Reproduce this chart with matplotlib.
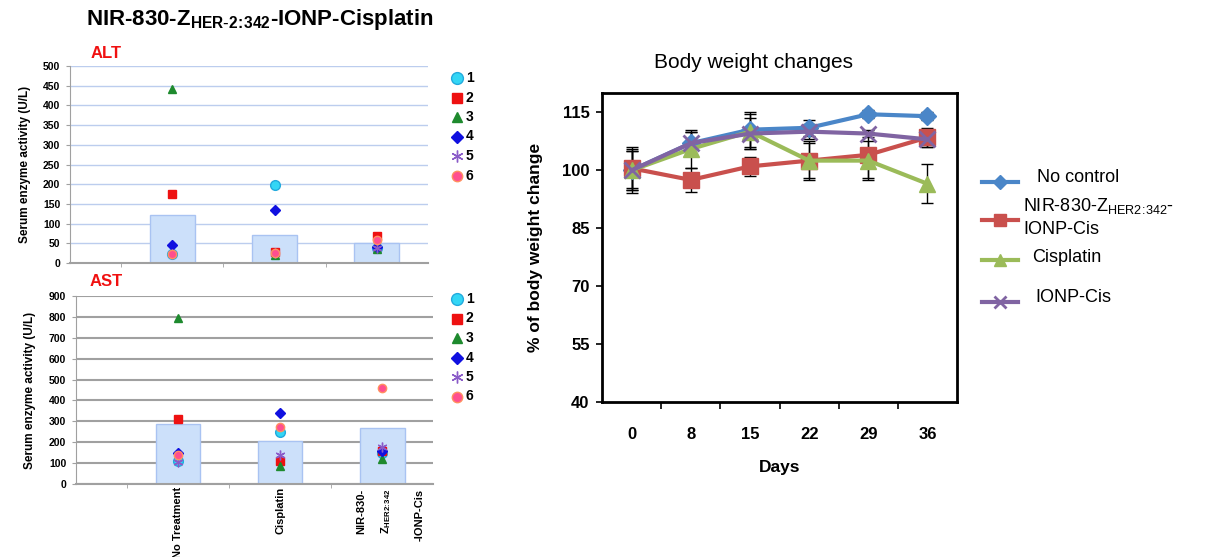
import matplotlib
matplotlib.use("Agg")
import matplotlib.pyplot as plt
from matplotlib.lines import Line2D
import numpy as np

plt.rcParams['font.family'] = ['Liberation Sans', 'DejaVu Sans']

# ---------------- data ----------------
groups = ["No Treatment", "Cisplatin", ""]
nir_label_lines = ["NIR-830-", "Z$_{\\mathregular{HER2\\!:\\!342}}$", "-IONP-Cis"]
mice = ["1", "2", "3", "4", "5", "6"]

alt_mean = [122, 72, 52]
alt_vals = {  # per mouse, per group
    "1": [22, 198, 38],
    "2": [175, 27, 68],
    "3": [442, 20, 35],
    "4": [45, 134, 40],
    "5": [22, 25, 38],
    "6": [22, 25, 58],
}
ast_mean = [285, 205, 270]
ast_vals = {
    "1": [112, 250, 150],
    "2": [310, 112, 158],
    "3": [795, 88, 120],
    "4": [150, 340, 160],
    "5": [105, 140, 175],
    "6": [140, 275, 460],
}

days = ["0", "8", "15", "22", "29", "36"]
bw_series = ["No control", "NIR-830-Z$_{\\mathregular{HER2\\!:\\!342}}$-\nIONP-Cis", "Cisplatin", "IONP-Cis"]
bw_vals = [
    [100, 107, 110.5, 111, 114.5, 114],
    [100.5, 97.5, 101, 102.5, 104, 108.5],
    [100, 105.5, 110, 102.5, 102.5, 96.5],
    [100, 107, 109.5, 110, 109.5, 108],
]
bw_err = [
    [6, 3, 4.5, 2, 1, 1],
    [5, 3, 2.5, 4.5, 6, 2.5],
    [5, 5, 4.5, 5, 5, 5],
    [5, 3, 4, 2, 1, 2],
]

# ---------------- styles ----------------
mouse_style = {
    "1": dict(marker="o", color="#33D6F5", mec="#22AADD", ms=7),
    "2": dict(marker="s", color="#EE1111", mec="#EE1111", ms=6),
    "3": dict(marker="^", color="#1E8A2E", mec="#1E8A2E", ms=6),
    "4": dict(marker="D", color="#1010E0", mec="#1010E0", ms=5),
    "5": dict(marker=(6, 2, 0), color="#8A5BC8", mec="#8A5BC8", ms=7),
    "6": dict(marker="o", color="#FF4F8F", mec="#FF9060", ms=6),
}
bw_colors = ["#4A86C8", "#C9504D", "#9BBB59", "#8064A2"]
bw_markers = ["D", "s", "^", "x"]
bw_ms = [9, 11, 11, 11]

fig = plt.figure(figsize=(12.09, 5.57), dpi=100)

def enzyme_panel(rect, means, vals, ymax, ystep, grid_color, grid_lw, label, label_xy, leg_y):
    ax = fig.add_axes(rect)
    x = np.arange(1, len(means) + 1)
    ax.bar(x, means, width=0.44, color="#CCE0FA", edgecolor="#A9C3F2", linewidth=1, zorder=2)
    for m in mice:
        st = mouse_style[m]
        ax.plot(x, vals[m], linestyle="none", marker=st["marker"], color=st["color"],
                mec=st["mec"], ms=st["ms"], zorder=3)
    ax.set_xlim(0, 3.5)
    ax.set_ylim(0, ymax)
    ax.set_yticks(np.arange(0, ymax + 1, ystep))
    ax.yaxis.grid(True, color=grid_color, lw=grid_lw, zorder=0)
    ax.set_axisbelow(True)
    for s in ["top", "right"]:
        ax.spines[s].set_visible(False)
    ax.spines["left"].set_color("#A0A0A0")
    ax.spines["bottom"].set_color("#A0A0A0")
    ax.spines["bottom"].set_linewidth(1.5)
    ax.tick_params(axis="y", labelsize=7.5, length=3, color="#A0A0A0", pad=4)
    for t in ax.get_yticklabels():
        t.set_fontweight("bold")
    ax.set_xticks([0.5, 1.5, 2.5], minor=True)
    ax.tick_params(axis="x", which="minor", length=3, color="#A0A0A0")
    fig.text(label_xy[0] / 1209, 1 - label_xy[1] / 557, label, color="#F01010",
             fontsize=12, fontweight="bold", va="center", ha="left")
    ax.set_ylabel("Serum enzyme activity (U/L)", fontsize=8.5, fontweight="bold", labelpad=9)
    # legend
    for i, m in enumerate(mice):
        st = mouse_style[m]
        yy = leg_y - i * 19.5
        fig.add_artist(Line2D([457 / 1209], [yy / 557], marker=st["marker"], color=st["color"],
                              mec=st["mec"], ms=st["ms"] + 1.5, linestyle="none"))
        fig.text(466 / 1209, yy / 557, m, fontsize=10, fontweight="bold", va="center")
    return ax

ax1 = enzyme_panel([0.0579, 0.5278, 0.2961, 0.3537], alt_mean, alt_vals, 500, 50,
                   "#BCCDEE", 1.0, "ALT", (91, 54), 557 - 78)
ax1.set_xticks([1, 2, 3])
ax1.tick_params(axis="x", which="major", length=0, labelbottom=False)

ax2 = enzyme_panel([0.0629, 0.1311, 0.2953, 0.3375], ast_mean, ast_vals, 900, 100,
                   "#A0A0A0", 1.5, "AST", (90, 282), 557 - 299)
ax2.set_xticks([1, 2, 3])
ax2.set_xticklabels(groups, rotation=90, fontsize=8, fontweight="bold",
                    va="top", ha="center")
ax2.tick_params(axis="x", which="major", length=0, pad=2)
for xoff, txt in zip([2.80, 3.04, 3.37], nir_label_lines):
    ax2.text(xoff, -0.025, txt, transform=ax2.get_xaxis_transform(), rotation=90,
             fontsize=8, fontweight="bold", va="top", ha="center")

fig.text(260 / 1209, 1 - 20 / 557, "NIR-830-Z$_{\\mathregular{HER\\text{-}2\\!:\\!342}}$-IONP-Cisplatin",
         fontsize=16, fontweight="bold", ha="center", va="center")

# ---------------- body weight ----------------
ax3 = fig.add_axes([0.498, 0.2783, 0.2936, 0.5547])
xi = np.arange(len(days))
for k in range(len(bw_series)):
    ax3.errorbar(xi, bw_vals[k], yerr=bw_err[k], fmt="none", ecolor="black",
                 elinewidth=1, capsize=4, capthick=1, zorder=2)
for k in range(len(bw_series)):
    ax3.plot(xi, bw_vals[k], color=bw_colors[k], lw=3, marker=bw_markers[k],
             ms=bw_ms[k], mew=2 if bw_markers[k] == "x" else 1,
             mec=bw_colors[k], zorder=3 + k * 0.1)
ax3.set_xlim(-0.5, 5.5)
ax3.set_ylim(40, 120)
ax3.set_yticks([40, 55, 70, 85, 100, 115])
ax3.set_xticks(xi)
ax3.set_xticklabels(days)
ax3.set_xticks(np.arange(0.5, 5.5, 1), minor=True)
ax3.tick_params(axis="x", which="major", length=0, pad=18, labelsize=12)
ax3.tick_params(axis="x", which="minor", length=5, width=1.2, direction="out")
ax3.tick_params(axis="y", length=4, width=1.2, labelsize=12, pad=5)
for t in ax3.get_xticklabels() + ax3.get_yticklabels():
    t.set_fontweight("bold")
for s in ax3.spines.values():
    s.set_linewidth(2)
ax3.set_xlabel("Days", fontsize=12.5, fontweight="bold", labelpad=13)
ax3.set_ylabel("% of body weight change", fontsize=12.5, fontweight="bold", labelpad=14)
fig.text(753 / 1209, 1 - 62 / 557, "Body weight changes", fontsize=15, ha="center", va="center")

# manual legend for body weight panel
leg_line_y = [182, 220, 260, 302]
leg_text_y = [177, 217, 258, 298]
leg_text_x = [1037, 1023, 1032, 1035]
leg_ms = [7, 9, 9, 9]
for k in range(4):
    yy = 1 - leg_line_y[k] / 557
    fig.add_artist(Line2D([982 / 1209, 1018 / 1209], [yy, yy], color=bw_colors[k], lw=3))
    fig.add_artist(Line2D([1000 / 1209], [yy], color=bw_colors[k], marker=bw_markers[k],
                          ms=leg_ms[k], mew=2 if bw_markers[k] == "x" else 1,
                          mec=bw_colors[k], linestyle="none"))
    fig.text(leg_text_x[k] / 1209, 1 - leg_text_y[k] / 557, bw_series[k], fontsize=13,
             va="center", ha="left", linespacing=1.4)

fig.savefig("out.png", dpi=100)
